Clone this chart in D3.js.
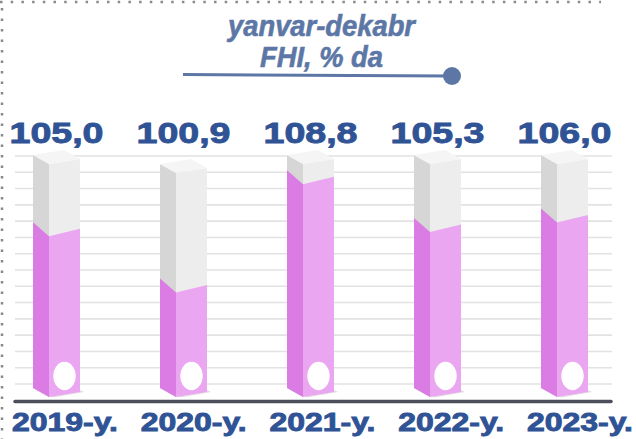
<!DOCTYPE html>
<html>
<head>
<meta charset="utf-8">
<script src="https://cdn.jsdelivr.net/npm/d3@7"></script>
<style>
    body { margin: 0; background: #fff; }
    svg { display: block; }
    .val, .year { font-family: "Liberation Sans", Arial, sans-serif; font-weight: bold;
                  fill: #2F5395; stroke: #2F5395; stroke-width: 0.9px; }
    .title { font-family: "Liberation Sans Narrow", "Arial Narrow", "Liberation Sans", sans-serif;
             font-weight: bold; font-style: italic; fill: #5C77A6; stroke: #5C77A6; stroke-width: 0.6px; }
</style>
</head>
<body>
<div id="chart"></div>
<script>
const years = ["2019", "2020", "2021", "2022", "2023"];
const values = [105.0, 100.9, 108.8, 105.3, 106.0];
const tubeTop = [109.9, 109.25, 109.9, 109.9, 109.9];
const yearLabels = ["2019-y.", "2020-y.", "2021-y.", "2022-y.", "2023-y."];
const valueLabels = ["105,0", "100,9", "108,8", "105,3", "106,0"];
const titleLines = ["yanvar-dekabr", "FHI, % da"];

const W = 636, H = 439;

function Config() {
    this.yBase = 388;
    this.xScale = d3.scalePoint().domain(years).range([56.5, 564.5]);
    this.yearScale = d3.scalePoint().domain(years).range([65, 580]);
    this.yScale = d3.scaleLinear().domain([92.9, 110]).range([this.yBase, 153.7]);
    this.gridScale = d3.scaleLinear().domain([0, 14]).range([384, 156]);
    this.leftW = 16;
    this.frontW = 31;
    this.colors = {
        top: "#F5F5F5", leftGrey: "#D6D6D6", frontGrey: "#EDEDED",
        leftPink: "#DB7BE4", frontPink: "#EAA6F0"
    };
}

const cfg = new Config();

const svg = d3.select("#chart").append("svg")
    .attr("width", W)
    .attr("height", H);

// dotted frame (top + left)
svg.append("line")
    .attr("x1", 0).attr("x2", 601).attr("y1", 2).attr("y2", 2)
    .attr("stroke", "#8a8a8a").attr("stroke-width", 2.5)
    .attr("stroke-dasharray", "2.5 8.2");
svg.append("line")
    .attr("x1", 2).attr("x2", 2).attr("y1", 8).attr("y2", H)
    .attr("stroke", "#8a8a8a").attr("stroke-width", 2.5)
    .attr("stroke-dasharray", "2.5 8");

// title
svg.selectAll(".title")
    .data(titleLines)
    .enter().append("text")
    .attr("class", "title")
    .attr("x", 321.5)
    .attr("y", (d, i) => 36 + i * 30.5)
    .attr("text-anchor", "middle")
    .attr("font-size", 29)
    .attr("textLength", (d, i) => i === 0 ? 187 : 123)
    .attr("lengthAdjust", "spacingAndGlyphs")
    .text(d => d);

svg.append("line")
    .attr("x1", 183).attr("x2", 450).attr("y1", 74.5).attr("y2", 76)
    .attr("stroke", "#5C77A6").attr("stroke-width", 3);
svg.append("circle")
    .attr("cx", 452).attr("cy", 76).attr("r", 9)
    .attr("fill", "#5C77A6");

// grid lines
svg.selectAll(".grid")
    .data(d3.range(15))
    .enter().append("line")
    .attr("class", "grid")
    .attr("x1", 15).attr("x2", 612)
    .attr("y1", d => cfg.gridScale(d))
    .attr("y2", d => cfg.gridScale(d))
    .attr("stroke", "#E2E2E2")
    .attr("stroke-width", 1.6);

// tubes
const data = years.map((y, i) => ({year: y, value: values[i], top: tubeTop[i]}));

const pts = arr => arr.map(p => p.join(",")).join(" ");

const bars = svg.selectAll(".bar")
    .data(data)
    .enter().append("g")
    .attr("class", "bar");

bars.each(function(d) {
    const g = d3.select(this);
    const c = cfg.xScale(d.year);
    const xL = c - 23.5, xM = xL + cfg.leftW, xR = xM + cfg.frontW;
    const yT = cfg.yScale(d.top);
    const yP = cfg.yScale(d.value);
    const yB = cfg.yBase;

    // shadow
    g.append("polygon")
        .attr("points", pts([[xM + 4, yB + 9.5], [xR + 4, yB + 4], [xR, yB + 2], [xM, yB + 8]]))
        .attr("fill", "#DEDEDE");

    g.append("polygon")
        .attr("points", pts([[xL, yT], [xM, yT + 9], [xM, yB + 9], [xL, yB]]))
        .attr("fill", cfg.colors.leftGrey);
    g.append("polygon")
        .attr("points", pts([[xM, yT + 9], [xR, yT + 4], [xR, yB + 4], [xM, yB + 9]]))
        .attr("fill", cfg.colors.frontGrey);
    g.append("polygon")
        .attr("points", pts([[xL, yT], [c + 7.5, yT - 5], [xR, yT + 4], [xM, yT + 9]]))
        .attr("fill", cfg.colors.top);

    // filled part
    g.append("polygon")
        .attr("points", pts([[xL, yP], [xM, yP + 14], [xM, yB + 9], [xL, yB]]))
        .attr("fill", cfg.colors.leftPink);
    g.append("polygon")
        .attr("points", pts([[xM, yP + 14], [xR, yP + 6.5], [xR, yB + 4], [xM, yB + 9]]))
        .attr("fill", cfg.colors.frontPink);

    g.append("ellipse")
        .attr("cx", (xM + xR) / 2)
        .attr("cy", 376)
        .attr("rx", 11.2)
        .attr("ry", 14.2)
        .attr("fill", "#fff");
});

// axis line
svg.append("line")
    .attr("x1", 15).attr("x2", 611).attr("y1", 401.5).attr("y2", 401.5)
    .attr("stroke", "#4D4E5C").attr("stroke-width", 3.5)
    .attr("stroke-linecap", "round");

// labels
svg.selectAll(".val")
    .data(data)
    .enter().append("text")
    .attr("class", "val")
    .attr("x", d => cfg.xScale(d.year))
    .attr("y", 143.3)
    .attr("text-anchor", "middle")
    .attr("font-size", 30)
    .attr("textLength", 94)
    .attr("lengthAdjust", "spacingAndGlyphs")
    .text((d, i) => valueLabels[i]);

svg.selectAll(".year")
    .data(data)
    .enter().append("text")
    .attr("class", "year")
    .attr("x", d => cfg.yearScale(d.year))
    .attr("y", 431)
    .attr("text-anchor", "middle")
    .attr("font-size", 25)
    .attr("textLength", 106)
    .attr("lengthAdjust", "spacingAndGlyphs")
    .text((d, i) => yearLabels[i]);
</script>
</body>
</html>
